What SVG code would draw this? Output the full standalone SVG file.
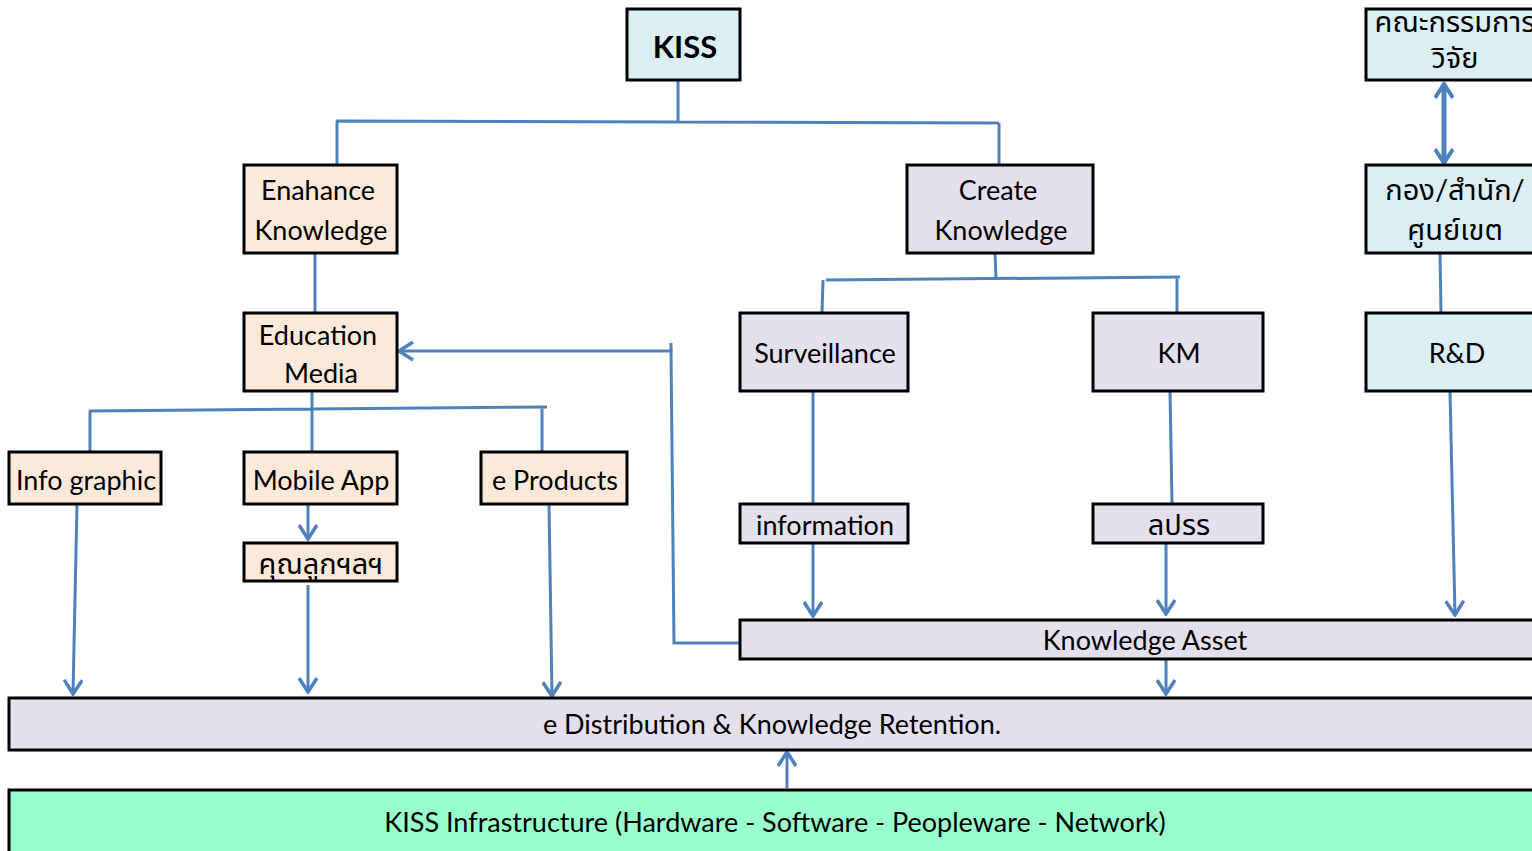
<svg xmlns="http://www.w3.org/2000/svg" width="1532" height="851" viewBox="0 0 1532 851">
<defs>
<style>
.box{stroke:#000;stroke-width:3}
.b{fill:#DBEEF4}
.p{fill:#FDE9D9}
.l{fill:#E4DFEC}
.g{fill:#99FFCC}
text{font-family:"Lato","Noto Sans","Noto Sans Thai",sans-serif;font-size:27px;fill:#000;text-anchor:middle}
.th{font-size:29px}
.c{fill:none;stroke:#4F81BD;stroke-width:3}
.t{stroke-width:5}
</style>
<marker id="ah" viewBox="0 0 20 20" refX="18" refY="10" markerWidth="20" markerHeight="20" markerUnits="userSpaceOnUse" orient="auto">
<path d="M4 1 L18 10 L4 19" fill="none" stroke="#4F81BD" stroke-width="3.5"/>
</marker>
<marker id="ahs" viewBox="0 0 20 20" refX="18" refY="10" markerWidth="20" markerHeight="20" markerUnits="userSpaceOnUse" orient="auto-start-reverse">
<path d="M4 1 L18 10 L4 19" fill="none" stroke="#4F81BD" stroke-width="4"/>
</marker>
</defs>
<rect width="1532" height="851" fill="#fff"/>

<g id="connectors">
<path class="c" d="M678 80 V121 M336 121 L999 123 M337 121 V165 M999 123 V165"/>
<path class="c" d="M315 253 V313"/>
<path class="c" d="M312 391 V452 M89 411 L547 407 M90 411 V452 M542 407 L542 452"/>
<path class="c" marker-end="url(#ah)" d="M308 504 V539"/>
<path class="c" marker-end="url(#ah)" d="M308 585 V692"/>
<path class="c" marker-end="url(#ah)" d="M77 504 L73 694"/>
<path class="c" marker-end="url(#ah)" d="M549 504 L552 696"/>
<path class="c" d="M671 343 V352"/>
<path class="c" marker-end="url(#ah)" d="M739 643 H674 L671 351 H399"/>
<path class="c" d="M995 253 L996 278 M826 280 L1180 277 M823 280 L822 313 M1177 277 V313"/>
<path class="c" d="M813 391 V503"/>
<path class="c" marker-end="url(#ah)" d="M813 543 V616"/>
<path class="c" d="M1170 391 L1172 503"/>
<path class="c" marker-end="url(#ah)" d="M1166 543 V614"/>
<path class="c t" marker-start="url(#ahs)" marker-end="url(#ahs)" d="M1444 84 V163"/>
<path class="c" d="M1440 253 L1441 313"/>
<path class="c" marker-end="url(#ah)" d="M1450 391 L1455 615"/>
<path class="c" marker-end="url(#ah)" d="M1166 659 V694"/>
<path class="c" marker-end="url(#ah)" d="M787 788 V752"/>
</g>

<g id="n-kiss"><rect class="box b" x="627" y="9" width="113" height="71"/><text x="685" y="58" style="font-weight:bold;font-size:31px">KISS</text></g>
<g id="n-enhance"><rect class="box p" x="244" y="165" width="153" height="88"/><text x="318" y="200">Enahance</text><text x="321" y="240">Knowledge</text></g>
<g id="n-education"><rect class="box p" x="244" y="313" width="153" height="78"/><text x="318" y="345">Education</text><text x="321" y="383">Media</text></g>
<g id="n-info"><rect class="box p" x="9" y="452" width="152" height="52"/><text x="86" y="490">Info graphic</text></g>
<g id="n-mobile"><rect class="box p" x="244" y="452" width="153" height="52"/><text x="321" y="490">Mobile App</text></g>
<g id="n-eprod"><rect class="box p" x="481" y="452" width="146" height="52"/><text x="555" y="490">e Products</text></g>
<g id="n-khun"><rect class="box p" x="244" y="543" width="153" height="38"/><text class="th" x="321" y="574">คุณลูกฯลฯ</text></g>
<g id="n-create"><rect class="box l" x="907" y="165" width="186" height="88"/><text x="998" y="200">Create</text><text x="1001" y="240">Knowledge</text></g>
<g id="n-surv"><rect class="box l" x="740" y="313" width="168" height="78"/><text x="825" y="363">Surveillance</text></g>
<g id="n-km"><rect class="box l" x="1093" y="313" width="170" height="78"/><text x="1179" y="363">KM</text></g>
<g id="n-info2"><rect class="box l" x="740" y="504" width="168" height="39"/><text x="825" y="535">information</text></g>
<g id="n-lprr"><rect class="box l" x="1093" y="504" width="170" height="39"/><text class="th" x="1179" y="535">ลปรร</text></g>
<g id="n-committee"><rect class="box b" x="1366" y="9" width="180" height="71"/><text class="th" x="1455" y="32">คณะกรรมการ</text><text class="th" x="1455" y="68">วิจัย</text></g>
<g id="n-division"><rect class="box b" x="1366" y="165" width="180" height="88"/><text class="th" x="1455" y="200">กอง/สำนัก/</text><text class="th" x="1455" y="240">ศูนย์เขต</text></g>
<g id="n-rd"><rect class="box b" x="1366" y="313" width="180" height="78"/><text x="1457" y="363">R&amp;D</text></g>
<g id="n-asset"><rect class="box l" x="740" y="620" width="806" height="39"/><text x="1145" y="650">Knowledge Asset</text></g>
<g id="n-dist"><rect class="box l" x="9" y="698" width="1537" height="52"/><text x="772" y="734">e Distribution &amp; Knowledge Retention.</text></g>
<g id="n-infra"><rect class="box g" x="9" y="790" width="1537" height="70"/><text x="775" y="832">KISS Infrastructure (Hardware - Software - Peopleware - Network)</text></g>
</svg>
